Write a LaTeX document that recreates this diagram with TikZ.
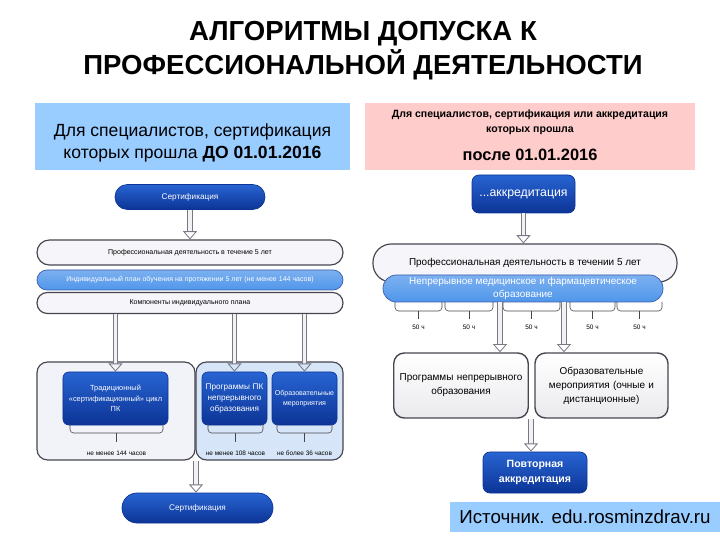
\documentclass[tikz,border=0pt]{standalone}
\usepackage{fontspec}
\setmainfont{Liberation Sans}
\usetikzlibrary{arrows.meta, positioning, calc}
\definecolor{hdrblue}{RGB}{153,204,255}
\definecolor{hdrpink}{RGB}{255,204,204}
\definecolor{dkblueA}{RGB}{40,100,210}
\definecolor{dkblueB}{RGB}{12,52,150}
\definecolor{ltblue}{RGB}{80,150,235}
\definecolor{pillgrey}{RGB}{70,70,80}
\definecolor{pillfill}{RGB}{246,246,250}
\definecolor{grpgrey}{RGB}{242,243,248}
\definecolor{grpblue}{RGB}{214,230,248}
\definecolor{arrgrey}{RGB}{120,120,135}
\tikzset{
  titletext/.style={font=\fontsize{23.5}{29}\selectfont\bfseries, align=center},
  hdrbox/.style={rectangle, inner sep=0pt},
  pill/.style={rectangle, draw=pillgrey, fill=pillfill, line width=1pt,
    inner sep=1pt, font=\fontsize{6}{7}\selectfont},
  ltpill/.style={rectangle, draw=dkblueB!80, top color=ltblue!75, bottom color=ltblue,
    line width=0.6pt, text=white, inner sep=1pt, align=center,
    font=\fontsize{6}{7}\selectfont},
  dkbox/.style={rectangle, draw=dkblueB, top color=dkblueA, bottom color=dkblueB,
    line width=0.6pt, text=white, align=center, inner sep=1pt,
    font=\fontsize{7}{9}\selectfont},
  grpbox/.style={rectangle, rounded corners=9pt, draw=pillgrey, line width=1pt},
  wbox/.style={rectangle, rounded corners=9pt, draw=pillgrey, line width=1.2pt,
    top color=white, bottom color=pillfill!90!gray, align=center,
    font=\fontsize{8.5}{12}\selectfont},
  hollow/.style={draw=arrgrey, double=white!90!gray, double distance=3pt,
    line width=0.7pt, -{Triangle[open, length=7pt, width=12pt]}},
  brace/.style={draw=pillgrey, line width=0.5pt, rounded corners=3pt},
  smalltext/.style={font=\fontsize{5.5}{6}\selectfont, inner sep=0pt}
}
\begin{document}
\begin{tikzpicture}[x=0.03cm, y=-0.03cm]
  \useasboundingbox (0,0) rectangle (720,540);

  % Title
  \node[titletext] (title) at (363,51) {АЛГОРИТМЫ ДОПУСКА К\\ПРОФЕССИОНАЛЬНОЙ ДЕЯТЕЛЬНОСТИ};

  % Headers
  \node[hdrbox, fill=hdrblue, minimum width=9.45cm, minimum height=2.01cm] (hdrL) at (192.5,136.5) {};
  \node[align=center, font=\fontsize{15}{18.5}\selectfont] (hdrLtext) at (192.5,143)
    {Для специалистов, сертификация\\которых прошла \textbf{ДО 01.01.2016}};
  \node[hdrbox, fill=hdrpink, minimum width=9.9cm, minimum height=2.01cm] (hdrR) at (530,136.5) {};
  \node[align=center, font=\fontsize{9}{13}\selectfont\bfseries] (hdrRtop) at (530,122)
    {Для специалистов, сертификация или аккредитация\\которых прошла};
  \node[font=\fontsize{14}{16}\selectfont\bfseries] (hdrRbot) at (530,155) {после 01.01.2016};

  % Left column
  \node[dkbox, minimum width=4.5cm, minimum height=0.75cm, rounded corners=0.37cm] (certA) at (190,197) {Сертификация};
  \node[pill, minimum width=9.18cm, minimum height=0.75cm, rounded corners=0.37cm] (profA) at (190,252.5)
    {Профессиональная деятельность в течение 5 лет};
  \node[ltpill, minimum width=9.18cm, minimum height=0.6cm, rounded corners=0.3cm] (indA) at (190,280)
    {Индивидуальный план обучения на протяжении 5 лет (не менее 144 часов)};
  \node[pill, minimum width=9.18cm, minimum height=0.63cm, rounded corners=0.31cm] (kompA) at (190,303)
    {Компоненты индивидуального плана};

  \node[grpbox, fill=grpgrey, minimum width=4.74cm, minimum height=2.94cm] (grpL) at (116,411) {};
  \node[grpbox, fill=grpblue, minimum width=4.41cm, minimum height=2.94cm] (grpR) at (269.5,411) {};

  \node[dkbox, rounded corners=5pt, minimum width=3.15cm, minimum height=1.59cm,
    font=\fontsize{6.3}{9}\selectfont] (trad) at (115.5,398.5)
    {Традиционный\\«сертификационный» цикл\\ПК};
  \node[dkbox, rounded corners=5pt, minimum width=1.95cm, minimum height=1.59cm, text width=1.85cm] (progA) at (234.5,398.5)
    {Программы ПК непрерывного образования};
  \node[dkbox, rounded corners=5pt, minimum width=1.95cm, minimum height=1.59cm, text width=1.85cm,
    font=\fontsize{6}{8}\selectfont] (obrA) at (304.5,398.5) {Образовательные мероприятия};

  \foreach \xa/\xb/\lab/\nm in {70/163/не менее 144 часов/hrsA, 208/263/не менее 108 часов/hrsB, 277/332/не более 36 часов/hrsC} {
    \draw[brace] (\xa,424) -- (\xa,433) -- (\xb,433) -- (\xb,424);
    \draw[brace] ({(\xa+\xb)/2},433) -- ({(\xa+\xb)/2},442);
    \node[smalltext] (\nm) at ({(\xa+\xb)/2},453) {\lab};
  }

  \node[dkbox, minimum width=4.53cm, minimum height=0.9cm, rounded corners=0.45cm] (certB) at (197.5,508) {Сертификация};
  \coordinate (grpJ) at (196,461);

  \draw[hollow] (certA) -- (profA);
  \draw[hollow] (kompA.south -| trad.north) -- (trad.north);
  \draw[hollow] (kompA.south -| progA.north) -- (progA.north);
  \draw[hollow] (kompA.south -| obrA.north) -- (obrA.north);
  \draw[hollow] (grpJ) -- (grpJ |- certB.north);

  % Right column
  \node[dkbox, rounded corners=6pt, minimum width=3.09cm, minimum height=1.14cm,
    font=\fontsize{10.5}{12}\selectfont] (akk) at (523.5,194) {...аккредитация};
  \node[pill, minimum width=9.12cm, minimum height=1.14cm, rounded corners=0.55cm,
    font=\fontsize{8.5}{10}\selectfont] (profB) at (525,263) {Профессиональная деятельность в течении 5 лет};
  \node[ltpill, minimum width=8.4cm, minimum height=0.81cm, rounded corners=0.4cm,
    font=\fontsize{8.5}{10.5}\selectfont] (nmo) at (523,288.5) {Непрерывное медицинское и фармацевтическое\\образование};

  \foreach \xa/\xb [count=\i] in {395/442, 445/493, 503/560, 570/615, 617/662} {
    \draw[brace] (\xa,302) -- (\xa,311) -- (\xb,311) -- (\xb,302);
    \draw[brace] ({(\xa+\xb)/2},311) -- ({(\xa+\xb)/2},319);
    \node[smalltext] (hrs\i) at ({(\xa+\xb)/2},327) {50 ч};
  }

  \node[wbox, minimum width=3.96cm, minimum height=1.95cm, text width=3.8cm] (progB) at (461,385.5)
    {Программы непрерывного образования};
  \node[wbox, minimum width=3.99cm, minimum height=1.95cm, text width=3.6cm] (obrB) at (601.5,385.5)
    {Образовательные\\мероприятия (очные и\\дистанционные)};
  \node[dkbox, rounded corners=6pt, minimum width=3.12cm, minimum height=1.23cm,
    font=\fontsize{9}{13}\selectfont\bfseries] (povt) at (535,472.5) {Повторная\\аккредитация};
  \node[hdrbox, fill=hdrblue, minimum width=8.1cm, minimum height=0.9cm,
    font=\fontsize{16}{18}\selectfont] (src) at (585,517) {Источник. edu.rosminzdrav.ru};

  \coordinate (arrA) at (500,0);
  \coordinate (arrB) at (564,0);
  \coordinate (gapB) at (531,419);
  \draw[hollow] (akk.south) -- (akk.south |- profB.north);
  \draw[hollow] (nmo.south -| arrA) -- (progB.north -| arrA);
  \draw[hollow] (nmo.south -| arrB) -- (obrB.north -| arrB);
  \draw[hollow] (gapB) -- (gapB |- povt.north);
\end{tikzpicture}
\end{document}
